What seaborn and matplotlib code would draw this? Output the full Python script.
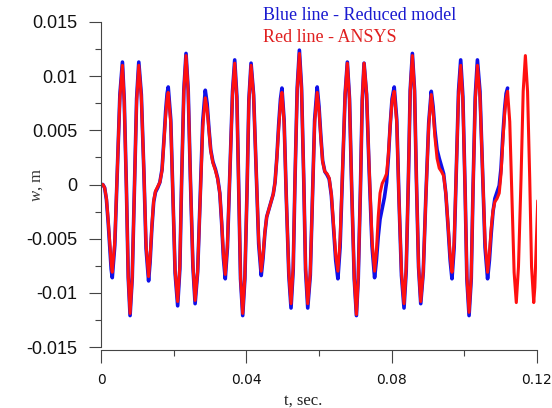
import numpy as np
import pandas as pd
import matplotlib
matplotlib.use("Agg")
import matplotlib.pyplot as plt
import seaborn as sns
from matplotlib.ticker import MultipleLocator, FixedLocator

# -----------------------------
# Data (time in s, deflection w in m)
# -----------------------------
t = [
    0.0000, 0.0005, 0.0010, 0.0015, 0.0020, 0.0025, 0.0028, 0.0031,
    0.0038, 0.0045, 0.0052, 0.0059, 0.0064, 0.0070, 0.0075, 0.0080,
    0.0086, 0.0092, 0.0098, 0.0104, 0.0111, 0.0118, 0.0124, 0.0131,
    0.0135, 0.0140, 0.0145, 0.0150, 0.0156, 0.0162, 0.0168, 0.0173, 0.0178, 0.0182, 0.0185,
    0.0192, 0.0198, 0.0204, 0.0211, 0.0217, 0.0222, 0.0228, 0.0234,
    0.0240, 0.0246, 0.0253, 0.0259, 0.0266, 0.0273, 0.0280, 0.0287,
    0.0292, 0.0297, 0.0302, 0.0308, 0.0315, 0.0321, 0.0327, 0.0332, 0.0337, 0.0342,
    0.0348, 0.0355, 0.0362, 0.0368, 0.0374, 0.0379, 0.0384, 0.0390,
    0.0396, 0.0402, 0.0407, 0.0413, 0.0420, 0.0427, 0.0434, 0.0441,
    0.0446, 0.0451, 0.0456, 0.0462, 0.0468, 0.0474, 0.0479, 0.0484, 0.0489, 0.0494, 0.0498,
    0.0504, 0.0510, 0.0517, 0.0523, 0.0529, 0.0534, 0.0540, 0.0546,
    0.0552, 0.0558, 0.0563, 0.0569, 0.0576, 0.0582, 0.0588, 0.0595,
    0.0600, 0.0605, 0.0610, 0.0616, 0.0622, 0.0628, 0.0634, 0.0640, 0.0646, 0.0652,
    0.0658, 0.0665, 0.0672, 0.0678, 0.0684, 0.0690, 0.0697, 0.0703,
    0.0708, 0.0714, 0.0719, 0.0724, 0.0731, 0.0738, 0.0746, 0.0753,
    0.0758, 0.0763, 0.0768, 0.0774, 0.0780, 0.0786, 0.0791, 0.0796, 0.0801, 0.0807,
    0.0814, 0.0820, 0.0827, 0.0834, 0.0840, 0.0846, 0.0851, 0.0857,
    0.0863, 0.0868, 0.0874, 0.0880, 0.0887, 0.0894, 0.0902, 0.0909,
    0.0914, 0.0919, 0.0925, 0.0931, 0.0937, 0.0943, 0.0949, 0.0955, 0.0961, 0.0966,
    0.0972, 0.0978, 0.0984, 0.0990, 0.0996, 0.1002, 0.1007, 0.1013,
    0.1019, 0.1024, 0.1030, 0.1036, 0.1043, 0.1050, 0.1057, 0.1064,
    0.1069, 0.1074, 0.1079, 0.1084, 0.1090, 0.1096, 0.1101, 0.1106, 0.1111, 0.1115, 0.1119,
    0.1125, 0.1131, 0.1137, 0.1143, 0.1149, 0.1156, 0.1162, 0.1168,
    0.1174, 0.1180, 0.1185, 0.1191, 0.1194, 0.1197, 0.1200, 0.1202,
]

# Reduced model (blue) - stops at t = 0.1119
w_reduced = [
    0.0, 0.0, -0.0003, -0.0014, -0.0036, -0.0062, -0.0078, -0.0086,
    -0.0056, 0.0013, 0.0083, 0.0113, 0.0078, -0.0004, -0.0086, -0.0121,
    -0.0086, -0.0004, 0.0079, 0.0113, 0.0083, 0.0012, -0.0059, -0.0089,
    -0.0072, -0.0040, -0.0016, -0.0007, -0.0003, 0.0002, 0.0014, 0.0040, 0.0068, 0.0084, 0.0090,
    0.0060, -0.0011, -0.0082, -0.0112, -0.0078, 0.0005, 0.0087, 0.0121,
    0.0087, 0.0006, -0.0076, -0.0110, -0.0081, -0.0012, 0.0058, 0.0087,
    0.0075, 0.0052, 0.0032, 0.0021, 0.0014, 0.0006, -0.0008, -0.0035, -0.0068, -0.0087,
    -0.0058, 0.0014, 0.0086, 0.0115, 0.0081, -0.0003, -0.0087, -0.0121,
    -0.0087, -0.0005, 0.0078, 0.0112, 0.0083, 0.0014, -0.0055, -0.0084,
    -0.0068, -0.0045, -0.0030, -0.0023, -0.0016, -0.0009, 0.0002, 0.0025, 0.0055, 0.0079, 0.0089,
    0.0059, -0.0012, -0.0084, -0.0114, -0.0079, 0.0005, 0.0089, 0.0124,
    0.0089, 0.0005, -0.0079, -0.0114, -0.0084, -0.0012, 0.0060, 0.0090,
    0.0072, 0.0045, 0.0022, 0.0012, 0.0009, 0.0005, -0.0010, -0.0040, -0.0070, -0.0087,
    -0.0058, 0.0013, 0.0084, 0.0113, 0.0079, -0.0004, -0.0087, -0.0121,
    -0.0087, -0.0005, 0.0078, 0.0112, 0.0083, 0.0013, -0.0057, -0.0086,
    -0.0070, -0.0048, -0.0032, -0.0022, -0.0012, 0.0002, 0.0025, 0.0055, 0.0079, 0.0090,
    0.0060, -0.0012, -0.0084, -0.0114, -0.0080, 0.0004, 0.0087, 0.0121,
    0.0087, 0.0006, -0.0076, -0.0110, -0.0081, -0.0012, 0.0057, 0.0086,
    0.0072, 0.0050, 0.0032, 0.0024, 0.0017, 0.0010, -0.0008, -0.0038, -0.0070, -0.0087,
    -0.0058, 0.0014, 0.0086, 0.0115, 0.0081, -0.0003, -0.0087, -0.0121,
    -0.0087, -0.0003, 0.0081, 0.0115, 0.0086, 0.0014, -0.0058, -0.0087,
    -0.0070, -0.0045, -0.0025, -0.0013, -0.0007, -0.0001, 0.0015, 0.0045, 0.0070, 0.0084, 0.0089,
]

# ANSYS (red) - full time span
w_ansys = [
    0.0, 0.0, -0.0003, -0.0013, -0.0034, -0.0058, -0.0073, -0.0081,
    -0.0052, 0.0014, 0.0081, 0.0110, 0.0076, -0.0005, -0.0085, -0.0119,
    -0.0085, -0.0005, 0.0077, 0.0110, 0.0081, 0.0013, -0.0056, -0.0085,
    -0.0069, -0.0038, -0.0015, -0.0006, -0.0002, 0.0002, 0.0013, 0.0038, 0.0064, 0.0080, 0.0085,
    0.0057, -0.0012, -0.0080, -0.0108, -0.0075, 0.0006, 0.0086, 0.0119,
    0.0086, 0.0006, -0.0074, -0.0107, -0.0080, -0.0014, 0.0053, 0.0080,
    0.0070, 0.0050, 0.0031, 0.0020, 0.0013, 0.0005, -0.0008, -0.0034, -0.0065, -0.0083,
    -0.0055, 0.0015, 0.0084, 0.0112, 0.0078, -0.0004, -0.0085, -0.0119,
    -0.0085, -0.0005, 0.0077, 0.0110, 0.0082, 0.0015, -0.0052, -0.0080,
    -0.0065, -0.0044, -0.0030, -0.0023, -0.0016, -0.0009, 0.0002, 0.0024, 0.0052, 0.0075, 0.0085,
    0.0057, -0.0012, -0.0082, -0.0110, -0.0076, 0.0006, 0.0087, 0.0121,
    0.0087, 0.0006, -0.0076, -0.0110, -0.0082, -0.0012, 0.0057, 0.0085,
    0.0069, 0.0043, 0.0021, 0.0012, 0.0010, 0.0006, -0.0009, -0.0037, -0.0065, -0.0080,
    -0.0052, 0.0016, 0.0084, 0.0112, 0.0078, -0.0004, -0.0086, -0.0120,
    -0.0086, -0.0004, 0.0078, 0.0112, 0.0084, 0.0016, -0.0052, -0.0080,
    -0.0062, -0.0030, -0.0008, 0.0001, 0.0005, 0.0010, 0.0028, 0.0055, 0.0077, 0.0086,
    0.0057, -0.0012, -0.0081, -0.0110, -0.0077, 0.0005, 0.0086, 0.0119,
    0.0086, 0.0006, -0.0075, -0.0108, -0.0080, -0.0013, 0.0055, 0.0083,
    0.0068, 0.0044, 0.0024, 0.0015, 0.0012, 0.0008, -0.0008, -0.0036, -0.0066, -0.0081,
    -0.0053, 0.0015, 0.0082, 0.0110, 0.0077, -0.0004, -0.0085, -0.0118,
    -0.0085, -0.0004, 0.0077, 0.0110, 0.0082, 0.0015, -0.0053, -0.0081,
    -0.0064, -0.0040, -0.0024, -0.0016, -0.0013, -0.0008, 0.0010, 0.0040, 0.0066, 0.0080, 0.0086,
    0.0058, -0.0012, -0.0081, -0.0109, -0.0076, 0.0005, 0.0086, 0.0119,
    0.0086, 0.0005, -0.0076, -0.0109, -0.0095, -0.0065, -0.0035, -0.0015,
]

x_ticks = [0, 0.04, 0.08, 0.12]
x_tick_labels = ["0", "0.04", "0.08", "0.12"]
y_ticks = [0.015, 0.01, 0.005, 0, -0.005, -0.01, -0.015]
y_tick_labels = ["0.015", "0.01", "0.005", "0", "-0.005", "-0.01", "-0.015"]

df_red = pd.DataFrame({"t": t, "w": w_ansys})
df_blue = pd.DataFrame({"t": t[:len(w_reduced)], "w": w_reduced})

# -----------------------------
# Plot
# -----------------------------
sns.set_style("ticks")
plt.rcParams["mathtext.fontset"] = "custom"
plt.rcParams["mathtext.it"] = "Liberation Serif:italic"
plt.rcParams["mathtext.rm"] = "Liberation Serif"

fig = plt.figure(figsize=(5.52, 4.08), dpi=100)
ax = fig.add_axes([101 / 552, 1 - 347 / 408, 436 / 552, 325 / 408])

sns.lineplot(data=df_blue, x="t", y="w", ax=ax, color="#1010e8",
             linewidth=2.6, estimator=None, sort=False)
sns.lineplot(data=df_red, x="t", y="w", ax=ax, color="#ff1010",
             linewidth=2.2, estimator=None, sort=False)

ax.set_xlim(0, 0.12)
ax.set_ylim(-0.015, 0.015)

ax.xaxis.set_major_locator(FixedLocator(x_ticks))
ax.set_xticklabels(x_tick_labels, fontfamily="Liberation Serif", fontsize=13.5)
ax.xaxis.set_minor_locator(MultipleLocator(0.02))
ax.yaxis.set_major_locator(FixedLocator(y_ticks))
ax.set_yticklabels(y_tick_labels, fontfamily="Liberation Sans", fontsize=13)
ax.yaxis.set_minor_locator(MultipleLocator(0.0025))

ax.tick_params(which="major", direction="out", length=9, width=0.8,
               color="#444444", labelcolor="#111111")
ax.tick_params(axis="y", which="major", pad=8)
ax.tick_params(axis="x", which="major", pad=8)
ax.tick_params(which="minor", direction="out", length=4.5, width=0.8,
               color="#444444")

for s in ["top", "right"]:
    ax.spines[s].set_visible(False)
ax.spines["left"].set_color("#444444")
ax.spines["bottom"].set_color("#444444")
ax.spines["left"].set_linewidth(0.8)
ax.spines["bottom"].set_linewidth(0.8)
ax.spines["bottom"].set_position(("outward", 2))

ax.set_xlabel("t, sec.", fontfamily="Liberation Serif", fontsize=12, color="#222222")
ax.xaxis.set_label_coords(0.463, -0.14)
ax.set_ylabel("$w$, m", fontfamily="Liberation Serif", fontsize=12, color="#333333")
ax.yaxis.set_label_coords(-0.128, 0.5)

fig.text(263 / 552, 1 - 16 / 408, "Blue line - Reduced model", color="#1a1ad0",
         fontfamily="Liberation Serif", fontsize=13, va="center")
fig.text(263 / 552, 1 - 38 / 408, "Red line - ANSYS", color="#e02020",
         fontfamily="Liberation Serif", fontsize=13, va="center")

plt.savefig("out.png", dpi=100)
